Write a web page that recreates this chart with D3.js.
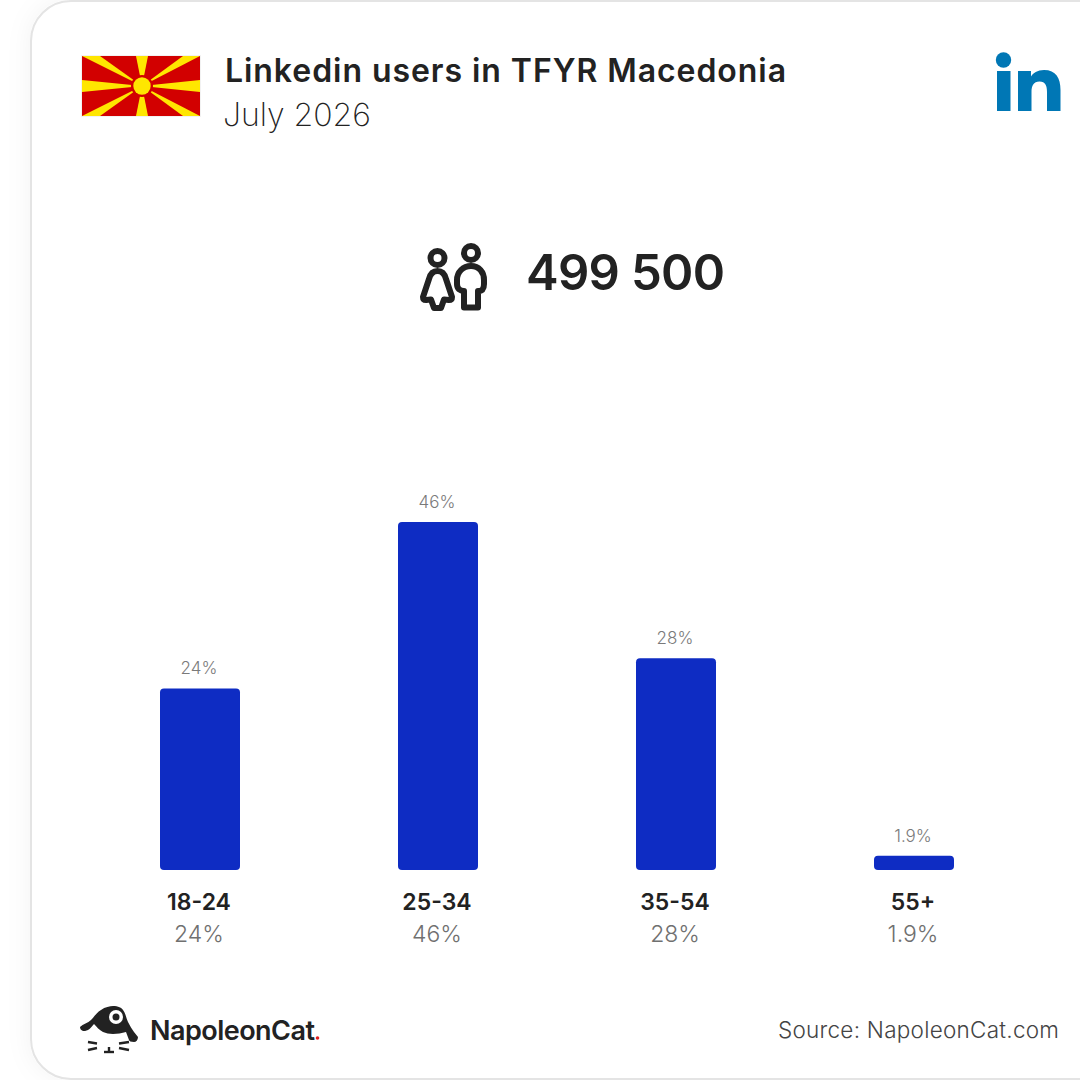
<!DOCTYPE html>
<html><head><meta charset="utf-8">
<script src="https://cdn.jsdelivr.net/npm/d3@7"></script>
<style>html,body{margin:0;padding:0;background:#fff}svg{display:block}text{font-family:Inter,"Open Sans",sans-serif}</style>
</head><body><svg id="c" width="1080" height="1080"></svg>
<script>
const categories=["18-24","25-34","35-54","55+"];
const values=[24,46,28,1.9];
const valueLabels=["24%","46%","28%","1.9%"];
const titleText="Linkedin users in TFYR Macedonia";
const dateText="July 2026";
const totalText="499 500";
const sourceText="Source: NapoleonCat.com";
const brandText="NapoleonCat";

const svg=d3.select("#c");
const defs=svg.append("defs");
const f=defs.append("filter").attr("id","sh").attr("x","-10%").attr("y","-10%").attr("width","120%").attr("height","120%");
f.append("feDropShadow").attr("dx",0).attr("dy",0).attr("stdDeviation",12).attr("flood-color","#000").attr("flood-opacity",0.05);
svg.append("rect").attr("x",31).attr("y",1).attr("width",1140).attr("height",1078).attr("rx",40)
 .attr("fill","#fff").attr("stroke","#e4e4e4").attr("stroke-width",2).attr("filter","url(#sh)");

const x=d3.scalePoint().domain(categories).range([200,914]);
const y=d3.scaleLinear().domain([0,46]).range([870,522]);
const barW=80;

svg.selectAll("path.bar").data(values).join("path").attr("class","bar").attr("fill","#0e2cc3")
 .attr("d",(v,i)=>{const l=x(categories[i])-barW/2,r=l+barW,t=y(v),b=y(0),c=4;
   return `M${l},${t+c}Q${l},${t} ${l+c},${t}H${r-c}Q${r},${t} ${r},${t+c}V${b-c}Q${r},${b} ${r-c},${b}H${l+c}Q${l},${b} ${l},${b-c}Z`;});

function fit(sel,w){sel.attr("textLength",w).attr("lengthAdjust","spacing");return sel;}
svg.selectAll("text.vl").data(values).join("text").attr("class","vl")
 .attr("x",(v,i)=>x(categories[i])-1).attr("y",v=>y(v)-14).attr("text-anchor","middle")
 .attr("font-size",17).attr("font-weight",300).attr("fill","#7a7a7a").text((v,i)=>valueLabels[i]);
svg.selectAll("text.cat").data(categories).join("text").attr("class","cat")
 .attr("x",d=>x(d)-1).attr("y",910).attr("text-anchor","middle")
 .attr("font-size",23).attr("font-weight",600).attr("fill","#222").text(d=>d);
svg.selectAll("text.pct").data(valueLabels).join("text").attr("class","pct")
 .attr("x",(d,i)=>x(categories[i])-1).attr("y",942).attr("text-anchor","middle")
 .attr("font-size",23).attr("font-weight",300).attr("fill","#707070").text(d=>d);

fit(svg.append("text").attr("x",225).attr("y",82).attr("font-size",32).attr("font-weight",600).attr("fill","#222").text(titleText),561);
fit(svg.append("text").attr("x",223).attr("y",126).attr("font-size",32).attr("font-weight",200).attr("fill","#222").text(dateText),148);
fit(svg.append("text").attr("x",526).attr("y",290).attr("font-size",49).attr("font-weight",600).attr("fill","#222").text(totalText),199);
fit(svg.append("text").attr("x",778).attr("y",1038).attr("font-size",22.5).attr("font-weight",300).attr("fill","#444").text(sourceText),281);

// flag
const fl=svg.append("g");
fl.append("rect").attr("x",81).attr("y",55).attr("width",120).attr("height",62).attr("fill","#f2f2f2");
fl.append("rect").attr("x",82).attr("y",56).attr("width",118).attr("height",60).attr("fill","#d20000");
const cx=142,cy=86;
[[[82,56],[100,56]],[[136,56],[148,56]],[[183,56],[200,56]],[[200,80],[200,92]],[[200,116],[183,116]],[[148,116],[136,116]],[[100,116],[82,116]],[[82,92],[82,80]]]
 .forEach(p=>{
  let a=p[0],b=p[1];
  fl.append("path").attr("fill","#ffe600").attr("d",`M${a}L${b}L${cx},${cy}Z`);
 });
fl.append("circle").attr("cx",cx).attr("cy",cy).attr("r",11).attr("fill","#d20000");
fl.append("circle").attr("cx",cx).attr("cy",cy).attr("r",8.7).attr("fill","#ffe600");

// linkedin mark
const li=svg.append("g").attr("fill","#0077b5");
li.append("circle").attr("cx",1003.5).attr("cy",60).attr("r",7.7);
li.append("rect").attr("x",997).attr("y",71).attr("width",13.5).attr("height",40);
li.append("path").attr("d","M1018,71H1031V76.5C1033,73 1037.500,70 1044,70C1056,70 1060.500,78 1060.500,90V111H1047V92C1047,86 1045.500,81.500 1039.500,81.500C1033.500,81.500 1031.500,86 1031.500,92V111H1018Z");

// people icon
const ic=svg.append("g").attr("fill","none").attr("stroke","#222").attr("stroke-width",6).attr("stroke-linejoin","round");
ic.append("circle").attr("cx",437.500).attr("cy",258).attr("r",7);
ic.append("circle").attr("cx",471).attr("cy",253).attr("r",7);
ic.append("path").attr("d","M437.500,271C432,271 430,275 429,279L423,297C423,299 424,300 426,300L431,299.500L434,308H441L444,299.500L449,300C451,300 452,299 452,297L446,279C445,275 443,271 437.500,271Z");
ic.append("path").attr("d","M471,266C463,266 457,272 457,280V284C457,289 460,291 464,291V307.500H478V291C482,291 484,289 484,284V280C484,272 479,266 471,266Z");

// logo
const lg=svg.append("g");
lg.append("path").attr("fill","#222").attr("d","M80,1027C83,1024 88,1023 91,1020C95,1016 97,1012 101,1010C105,1007 110,1006 113,1006C118,1006 122,1008 123,1010C126,1014 126,1018 128,1022C130,1026 132,1029 134,1032L138,1037C138,1040 136,1042 134,1042C131,1042 129,1041 129,1040L126,1032C122,1033 117,1034 113,1034C109,1034 106,1033 103,1032C99,1030 97,1027 94,1024C92,1026 90,1029 88,1030C86,1031 84,1031 83,1031C81,1030 80,1029 80,1027Z");
lg.append("circle").attr("cx",116).attr("cy",1017).attr("r",7).attr("fill","#fff");
lg.append("circle").attr("cx",116).attr("cy",1017).attr("r",3.500).attr("fill","#222");
lg.append("g").attr("stroke","#222").attr("stroke-width",2.400).attr("fill","none").selectAll("path")
 .data(["M88,1042L97,1043.500","M88,1050L97,1048","M119,1043.500L129,1042","M119,1048L129,1050","M104,1052H114","M109,1047V1052"])
 .join("path").attr("d",d=>d);
fit(lg.append("text").attr("x",150).attr("y",1040).attr("font-size",27).attr("font-weight",600).attr("fill","#222").text(brandText),165);
lg.append("circle").attr("cx",317.500).attr("cy",1038).attr("r",1.800).attr("fill","#e02020");
</script></body></html>
